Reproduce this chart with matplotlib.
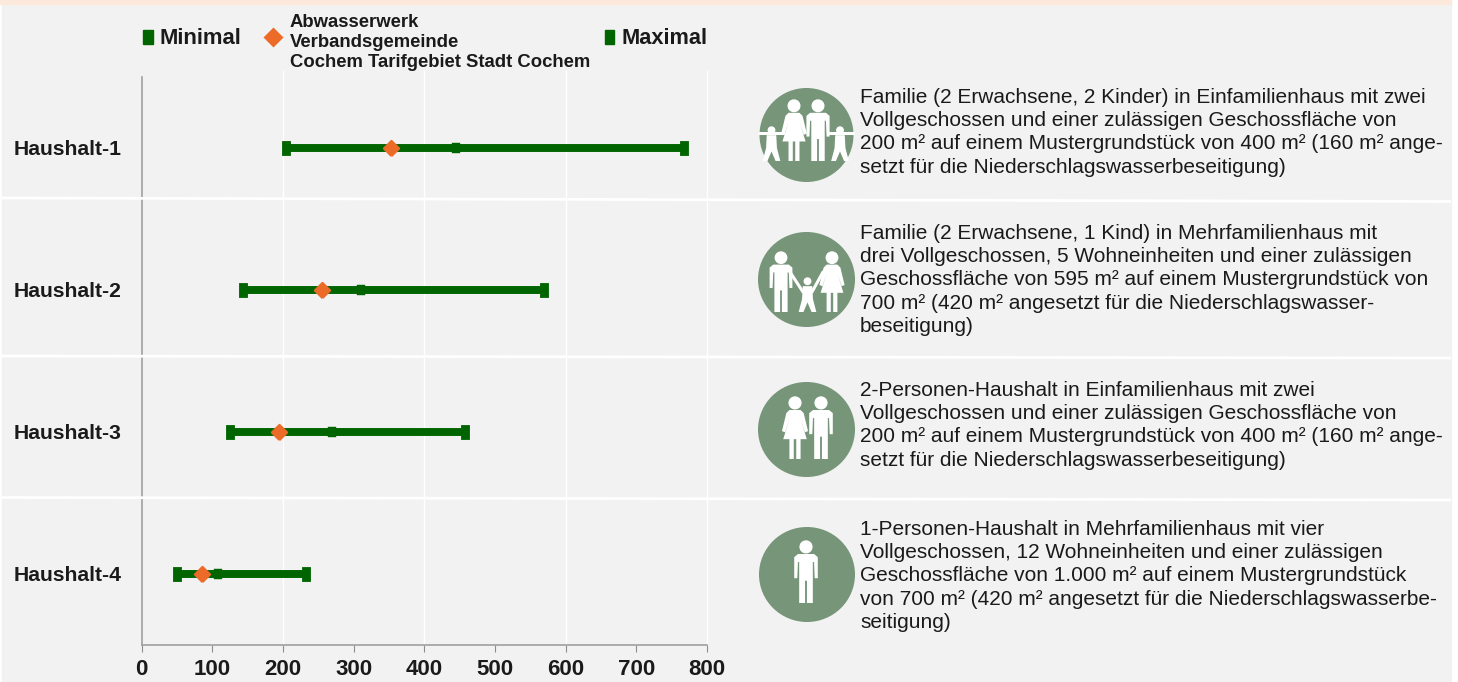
import matplotlib
matplotlib.use('Agg')
import matplotlib.pyplot as plt
from matplotlib.patches import Ellipse, Polygon, Rectangle
from matplotlib.path import Path

plt.rcParams['font.family'] = ['Liberation Sans', 'DejaVu Sans']

W, H = 1458, 682
DARK_GREEN = '#006400'
ORANGE = '#ed6b28'
ICON_GREEN = '#769579'
BG = '#f2f2f2'
TXT = '#1a1a1a'

# Values
households = ['Haushalt-1', 'Haushalt-2', 'Haushalt-3', 'Haushalt-4']
minimal = [205, 144, 125, 50]
maximal = [767, 570, 458, 233]
average = [445, 310, 270, 108]
cochem = [353, 255, 195, 86]
x_ticks = [0, 100, 200, 300, 400, 500, 600, 700, 800]
grid_ticks = [200, 400, 600, 800]

legend_min = 'Minimal'
legend_max = 'Maximal'
legend_mid = ['Abwasserwerk', 'Verbandsgemeinde', 'Cochem Tarifgebiet Stadt Cochem']

descriptions = [
    ['Familie (2 Erwachsene, 2 Kinder) in Einfamilienhaus mit zwei',
     'Vollgeschossen und einer zulässigen Geschossfläche von',
     '200 m² auf einem Mustergrundstück von 400 m² (160 m² ange-',
     'setzt für die Niederschlagswasserbeseitigung)'],
    ['Familie (2 Erwachsene, 1 Kind) in Mehrfamilienhaus mit',
     'drei Vollgeschossen, 5 Wohneinheiten und einer zulässigen',
     'Geschossfläche von 595 m² auf einem Mustergrundstück von',
     '700 m² (420 m² angesetzt für die Niederschlagswasser-',
     'beseitigung)'],
    ['2-Personen-Haushalt in Einfamilienhaus mit zwei',
     'Vollgeschossen und einer zulässigen Geschossfläche von',
     '200 m² auf einem Mustergrundstück von 400 m² (160 m² ange-',
     'setzt für die Niederschlagswasserbeseitigung)'],
    ['1-Personen-Haushalt in Mehrfamilienhaus mit vier',
     'Vollgeschossen, 12 Wohneinheiten und einer zulässigen',
     'Geschossfläche von 1.000 m² auf einem Mustergrundstück',
     'von 700 m² (420 m² angesetzt für die Niederschlagswasserbe-',
     'seitigung)'],
]
text_top = [97.5, 233.5, 390.5, 529.5]

fig = plt.figure(figsize=(W / 100, H / 100), dpi=100, facecolor='white')

# Background panel and the pale strip at the top
fig.patches.append(Rectangle((2 / W, 0), 1449 / W, 1, transform=fig.transFigure, color=BG, zorder=-5))
fig.patches.append(Rectangle((0, 1 - 4 / H), 1451 / W, 4 / H, transform=fig.transFigure, color='#fde9dc', zorder=-4))

# Main chart
ax = fig.add_axes([141.5 / W, 1 - 645 / H, 565.5 / W, 568 / H])
ax.patch.set_visible(False)
ax.set_xlim(0, 800)
ax.set_ylim(3.5, -0.5)
for s in ['top', 'right']:
    ax.spines[s].set_visible(False)
for s in ['left', 'bottom']:
    ax.spines[s].set_color('#a0a0a0')
    ax.spines[s].set_linewidth(1.2)

for g in grid_ticks:
    ax.plot([g, g], [3.5, -0.54], color='white', lw=1.0, zorder=1, clip_on=False)

ax.set_xticks(x_ticks)
ax.set_xticklabels([str(t) for t in x_ticks], fontsize=16, fontweight='bold', color=TXT)
ax.tick_params(axis='x', length=5, width=0.8, color='#8c8c8c', pad=5)
ax.set_yticks([])

tall_box = Path([(-0.6, -1), (0.6, -1), (0.6, 1), (-0.6, 1), (-0.6, -1)])
small_box = Path([(-0.75, -1), (0.75, -1), (0.75, 1), (-0.75, 1), (-0.75, -1)])
diamond = Path([(0, -1), (1, 0), (0, 1), (-1, 0), (0, -1)])

for i, name in enumerate(households):
    ax.plot([minimal[i], maximal[i]], [i, i], color=DARK_GREEN, lw=5.7, solid_capstyle='butt', zorder=3)
    ax.plot([minimal[i], maximal[i]], [i, i], ls='none', marker=tall_box, ms=9.8, mfc=DARK_GREEN, mec=DARK_GREEN, mew=0.6, zorder=4)
    ax.plot([average[i]], [i], ls='none', marker=small_box, ms=7, mfc=DARK_GREEN, mec=DARK_GREEN, mew=0.3, zorder=4)
    ax.plot([cochem[i]], [i], ls='none', marker=diamond, ms=11, mfc=ORANGE, mec=ORANGE, mew=1.5, zorder=5)
    ax.annotate(name, (0, i), xytext=(14, 682 - 148 - i * 142 - 1.5), xycoords='data', textcoords='figure pixels',
                fontsize=15.2, fontweight='bold', color=TXT, ha='left', va='center', annotation_clip=False)

# Overlay in pixel coordinates for everything outside the plot area
ov = fig.add_axes([0, 0, 1, 1], zorder=5)
ov.set_xlim(0, W)
ov.set_ylim(H, 0)
ov.axis('off')

# White separators, very slightly tilted in the source
for y0, y1 in [(198, 201.5), (356, 358), (497.5, 500)]:
    ov.plot([2, 1451], [y0, y1], color='white', lw=2.0, solid_capstyle='butt', zorder=1)

# Legend
ov.add_patch(Rectangle((143, 30), 10, 14, color=DARK_GREEN, zorder=3))
ov.text(160, 38, legend_min, fontsize=15.8, fontweight='bold', color=TXT, va='center')
ov.plot([273.5], [37], ls='none', marker=diamond, ms=14.4, mfc=ORANGE, mec=ORANGE, mew=0, zorder=3)
for k, line in enumerate(legend_mid):
    ov.text(290, 22.3 + k * 20, line, fontsize=13.3, fontweight='bold', color=TXT, va='center')
ov.add_patch(Rectangle((605, 30), 9.5, 13.5, color=DARK_GREEN, zorder=3))
ov.text(622, 38, legend_max, fontsize=15.7, fontweight='bold', color=TXT, va='center')

# Description texts
for top, lines in zip(text_top, descriptions):
    for k, line in enumerate(lines):
        ov.text(860, top + k * 23.2, line, fontsize=15.0, color=TXT, va='center')


# Pictograms
def person(cx, top, h, female=False, child=False):
    head_r = 0.095 * h
    ov.add_patch(Ellipse((cx, top + head_r), head_r * 2, head_r * 2, color='white', zorder=4))
    if child:
        shape = [(-.14, .24), (.14, .24), (.16, .62), (.26, 1), (.12, 1), (0, .72),
                 (-.12, 1), (-.26, 1), (-.16, .62)]
    elif female:
        shape = [(-.09, .21), (.09, .21), (.14, .26), (.21, .55), (.16, .57), (.09, .36),
                 (.19, .68), (.09, .68), (.09, 1), (.02, 1), (.02, .68), (-.02, .68),
                 (-.02, 1), (-.09, 1), (-.09, .68), (-.19, .68), (-.09, .36), (-.16, .57),
                 (-.21, .55), (-.14, .26)]
    else:
        shape = [(-.13, .21), (.13, .21), (.19, .26), (.19, .60), (.14, .60), (.13, .34),
                 (.11, .34), (.11, 1), (.015, 1), (.015, .64), (-.015, .64), (-.015, 1),
                 (-.11, 1), (-.11, .34), (-.13, .34), (-.14, .60), (-.19, .60), (-.19, .26)]
    ov.add_patch(Polygon([(cx + px * h, top + py * h) for px, py in shape], closed=True,
                         color='white', lw=0, zorder=4))


def arm(x0, y0, x1, y1, lw=2.2):
    ov.plot([x0, x1], [y0, y1], color='white', lw=lw, solid_capstyle='round', zorder=4)


icons = [(806.5, 135, 47, 47), (806.5, 279.5, 48.5, 47.5), (806.5, 429.5, 48.5, 47.5), (807, 574.5, 48, 47.5)]
for cx, cy, rx, ry in icons:
    ov.add_patch(Ellipse((cx, cy), rx * 2, ry * 2, color=ICON_GREEN, lw=0, zorder=3))

# Icon 1: two adults, two children
person(794, 100, 61, female=True)
person(818, 100, 61)
person(771.5, 127, 34, child=True)
person(840, 127, 34, child=True)
arm(759, 133, 783, 133)
arm(828, 133, 853, 133)
# Icon 2: two adults, one child
person(781, 252, 60)
person(832, 252, 60, female=True)
person(807.5, 278, 34, child=True)
arm(790, 272, 803, 292)
arm(823, 272, 812, 292)
# Icon 3: couple
person(795, 397, 62, female=True)
person(821, 397, 62)
# Icon 4: one person
person(806, 541, 62)

fig.savefig('out.png', dpi=100, facecolor=fig.get_facecolor())
